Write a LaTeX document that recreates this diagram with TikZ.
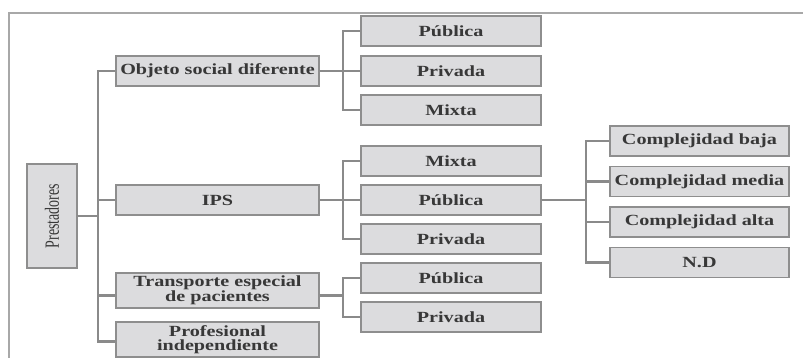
\documentclass[tikz,border=0pt]{standalone}
\usepackage{fontspec}
\setmainfont{Liberation Serif}
\usepackage{graphicx}
\usetikzlibrary{shapes,arrows}
\definecolor{boxfill}{HTML}{DCDCDE}
\definecolor{boxline}{HTML}{8E8E8E}
\definecolor{linkgray}{HTML}{8A8A8A}
\definecolor{txtgray}{HTML}{383838}
\definecolor{framegray}{HTML}{A8A8A8}
\newcommand{\wide}[1]{\scalebox{1.3}[1]{#1}}

\begin{document}
\begin{tikzpicture}[x=1pt,y=-1pt,
                every node/.style={draw=boxline,fill=boxfill,line width=1.4pt,inner sep=0pt,
                  text=txtgray,align=center,font=\fontsize{15.5}{14.5}\selectfont\bfseries},
                lvlone/.style={minimum width=203pt,minimum height=30pt},
                lvltwo/.style={minimum width=180pt,minimum height=30pt},
                lvlthree/.style={minimum width=179pt,minimum height=30pt},
                link/.style={draw=linkgray,line width=2.3pt}]
  \useasboundingbox (0,0) rectangle (803,358);
  \draw[draw=framegray,line width=1.5pt] (803,13) -- (9,13) -- (9,358);
  % root
  \node[minimum width=50pt,minimum height=104pt,font=\fontsize{15.5}{17}\selectfont\mdseries]
                   (pre) at (52,216) {\wide{\rotatebox{90}{\scalebox{0.9}[1]{Prestadores}}}};
  % first level
  \node[lvlone]    (obj) at (217.5,71)  {\wide{Objeto social diferente}};
  \node[lvlone]    (ips) at (217.5,200) {\wide{IPS}};
  \node[lvlone,minimum height=35pt] (trans) at (217.5,290.5) {\wide{Transporte especial}\\ \wide{de pacientes}};
  \node[lvlone,minimum height=35pt] (prof) at (217.5,339.5) {\wide{Profesional}\\ \wide{independiente}};
  % second level
  \node[lvltwo]    (objpub)  at (451,31)  {\wide{Pública}};
  \node[lvltwo]    (objpriv) at (451,71)  {\wide{Privada}};
  \node[lvltwo]    (objmix)  at (451,110) {\wide{Mixta}};
  \node[lvltwo]    (ipsmix)  at (451,161) {\wide{Mixta}};
  \node[lvltwo]    (ipspub)  at (451,200) {\wide{Pública}};
  \node[lvltwo]    (ipspriv) at (451,239) {\wide{Privada}};
  \node[lvltwo]    (trpub)   at (451,278) {\wide{Pública}};
  \node[lvltwo]    (trpriv)  at (451,317) {\wide{Privada}};
  % third level
  \node[lvlthree]  (cbaja)   at (699.5,141)   {\wide{Complejidad baja}};
  \node[lvlthree]  (cmedia)  at (699.5,181.5) {\wide{Complejidad media}};
  \node[lvlthree]  (calta)   at (699.5,222)   {\wide{Complejidad alta}};
  \node[lvlthree]  (cnd)     at (699.5,262.5) {\wide{N.D}};
  \draw[link] (pre.east) -- ++(20,0) |- (obj.west);
  \draw[link] (pre.east) -- ++(20,0) |- (ips.west);
  \draw[link] (pre.east) -- ++(20,0) |- ([yshift=-5pt]trans.west);
  \draw[link] (pre.east) -- ++(20,0) |- ([yshift=-2pt]prof.west);
  \draw[link] (obj.east) -- ++(23,0) |- (objpub.west);
  \draw[link] (obj.east) -- ++(23,0) |- (objpriv.west);
  \draw[link] (obj.east) -- ++(23,0) |- (objmix.west);
  \draw[link] (ips.east) -- ++(23,0) |- (ipsmix.west);
  \draw[link] (ips.east) -- ++(23,0) |- (ipspub.west);
  \draw[link] (ips.east) -- ++(23,0) |- (ipspriv.west);
  \draw[link] ([yshift=-5pt]trans.east) -- ++(23,0) |- (trpub.west);
  \draw[link] ([yshift=-5pt]trans.east) -- ++(23,0) |- (trpriv.west);
  \draw[link] (ipspub.east) -- ++(44,0) |- (cbaja.west);
  \draw[link] (ipspub.east) -- ++(44,0) |- (cmedia.west);
  \draw[link] (ipspub.east) -- ++(44,0) |- (calta.west);
  \draw[link] (ipspub.east) -- ++(44,0) |- (cnd.west);
\end{tikzpicture}
\end{document}
